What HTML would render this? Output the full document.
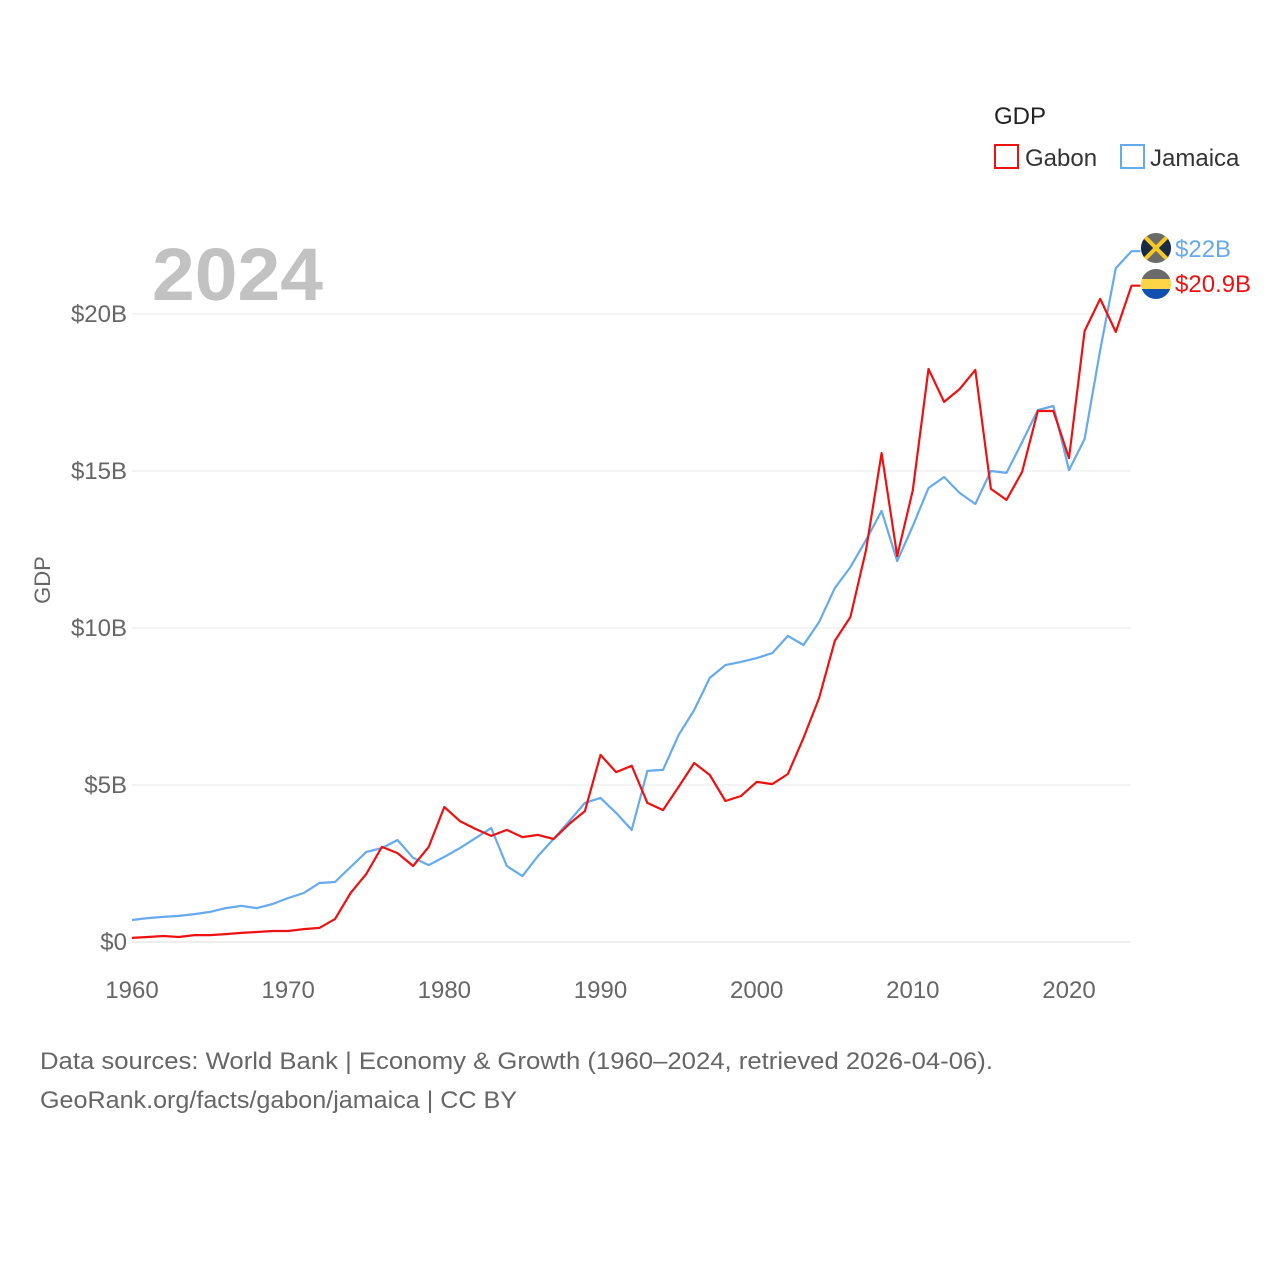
<!DOCTYPE html>
<html><head><meta charset="utf-8"><style>
html,body{margin:0;padding:0;background:#fff;}
svg text{font-family:"Liberation Sans",sans-serif;}
</style></head><body>
<svg id="chart" width="1280" height="1280" xmlns="http://www.w3.org/2000/svg">
<rect width="1280" height="1280" fill="#fff"/>
<g id="grid"></g>
<g id="axes"></g>
<text x="152" y="300" font-size="74" font-weight="bold" fill="#c2c2c2" textLength="171" lengthAdjust="spacingAndGlyphs">2024</text>
<text x="0" y="0" font-size="22" fill="#666" text-anchor="middle" transform="translate(50,580) rotate(-90)">GDP</text>
<g id="lines"></g>
<g>
<text x="994" y="124" font-size="24" fill="#222">GDP</text>
<g><rect x="995" y="145" width="23" height="23" fill="none" stroke="#ee1111" stroke-width="2"/><text x="1025" y="166" font-size="24" fill="#333">Gabon</text></g>
<g><rect x="1121" y="145" width="23" height="23" fill="none" stroke="#66aaee" stroke-width="2"/><text x="1150" y="166" font-size="24" fill="#333">Jamaica</text></g>
</g>
<g>
<clipPath id="cj"><circle cx="1156" cy="248" r="15"/></clipPath>
<g clip-path="url(#cj)"><rect x="1140" y="232" width="32" height="32" fill="#6a6a6a"/><polygon points="1140,234 1156,248 1140,262" fill="#1a2a44"/><polygon points="1172,234 1156,248 1172,262" fill="#1a2a44"/><line x1="1140" y1="232" x2="1172" y2="264" stroke="#f5c823" stroke-width="4"/><line x1="1172" y1="232" x2="1140" y2="264" stroke="#f5c823" stroke-width="4"/></g>
</g>
<g>
<clipPath id="cg"><circle cx="1156" cy="284" r="15"/></clipPath>
<g clip-path="url(#cg)"><rect x="1140" y="268" width="32" height="11" fill="#6a6a6a"/><rect x="1140" y="279" width="32" height="11" fill="#fcd647"/><rect x="1140" y="289" width="32" height="12" fill="#1050b0"/></g>
</g>
<text x="1175" y="257" font-size="24" fill="#66aaee">$22B</text>
<text x="1175" y="292" font-size="24" fill="#ee1111">$20.9B</text>
<text x="40" y="1069" font-size="24" fill="#666" textLength="953" lengthAdjust="spacingAndGlyphs">Data sources: World Bank | Economy &amp; Growth (1960–2024, retrieved 2026-04-06).</text>
<text x="40" y="1108" font-size="24" fill="#666" textLength="477" lengthAdjust="spacingAndGlyphs">GeoRank.org/facts/gabon/jamaica | CC BY</text>
</svg>
<script>
const startYear = 1960;
const gabonValues = [0.13,0.16,0.19,0.16,0.22,0.22,0.25,0.29,0.32,0.35,0.35,0.41,0.45,0.73,1.56,2.17,3.03,2.83,2.42,3.03,4.30,3.85,3.60,3.38,3.57,3.34,3.41,3.28,3.76,4.17,5.96,5.41,5.61,4.43,4.20,4.94,5.70,5.32,4.49,4.65,5.10,5.03,5.35,6.50,7.77,9.59,10.35,12.48,15.57,12.29,14.39,18.25,17.20,17.61,18.22,14.43,14.08,14.97,16.91,16.91,15.41,19.46,20.48,19.43,20.9];
const jamaicaValues = [0.70,0.76,0.80,0.83,0.89,0.96,1.08,1.15,1.08,1.21,1.40,1.56,1.88,1.91,2.39,2.87,2.99,3.25,2.68,2.45,2.71,2.99,3.31,3.63,2.42,2.10,2.74,3.28,3.85,4.43,4.59,4.11,3.57,5.45,5.48,6.59,7.39,8.41,8.82,8.92,9.04,9.20,9.75,9.46,10.19,11.27,11.94,12.80,13.73,12.13,13.25,14.46,14.81,14.30,13.95,15.0,14.94,15.92,16.94,17.07,15.03,16.02,18.85,21.46,22.0];
const xTicks = [1960,1970,1980,1990,2000,2010,2020];
const yTicks = [0,5,10,15,20];
const yTickLabels = ["$0","$5B","$10B","$15B","$20B"];

const NS = "http://www.w3.org/2000/svg";
const x = yr => 132 + (yr - 1960) * (1069 - 132) / 60;
const y = v => 942 - v * 31.4;
function mk(tag, attrs, parent){const e=document.createElementNS(NS,tag);for(const k in attrs)e.setAttribute(k,attrs[k]);parent.appendChild(e);return e;}
const grid=document.getElementById('grid'), axes=document.getElementById('axes'), lines=document.getElementById('lines');
yTicks.forEach((t,i)=>{
  const l=mk('line',{x1:132,x2:1131,y1:y(t),y2:y(t),stroke:t===0?'#ddd':'#e8e8e8','stroke-width':1},grid);
  
  
  const tx=mk('text',{x:127,y:y(t)+8,'font-size':24,fill:'#666','text-anchor':'end'},axes);
  tx.textContent=yTickLabels[i];
  
  
});
xTicks.forEach(t=>{
  const tx=mk('text',{x:x(t),y:998,'font-size':24,fill:'#666','text-anchor':'middle'},axes);
  tx.textContent=t;
  
  
});
function series(vals,color,name){
  const pts=vals.map((v,i)=>x(startYear+i).toFixed(1)+','+y(v).toFixed(1));
  const last=vals.length-1;
  pts.push((x(startYear+last)+9).toFixed(1)+','+y(vals[last]).toFixed(1));
  const p=mk('polyline',{points:pts.join(' '),fill:'none',stroke:color,'stroke-width':2.2,'stroke-linejoin':'round'},lines);
  
  
}
series(jamaicaValues,'#66aaee','jamaica-line');
series(gabonValues,'#ee1111','gabon-line');
</script>
</body></html>
